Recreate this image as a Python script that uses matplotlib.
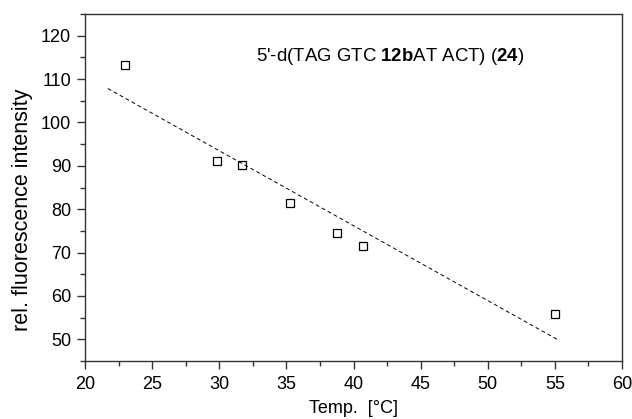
import numpy as np
import matplotlib.pyplot as plt
from matplotlib.ticker import MultipleLocator

plt.rcParams['font.family'] = ['Liberation Sans', 'DejaVu Sans']
plt.rcParams['mathtext.fontset'] = 'custom'
plt.rcParams['mathtext.rm'] = 'Liberation Sans'
plt.rcParams['mathtext.bf'] = 'Liberation Sans:bold'

# Messwerte
temp = [23.0, 29.8, 31.7, 35.3, 38.8, 40.7, 55.0]
intensity = [113.3, 91.0, 90.2, 81.4, 74.6, 71.4, 55.9]

# Bereich der Ausgleichsgeraden
fit_range = [21.7, 55.3]

fig = plt.figure(figsize=(6.32, 4.19), dpi=100)
ax = fig.add_axes([0.1345, 0.1384, 0.8497, 0.8282])

ax.plot(temp, intensity, linestyle='none', marker='s', markersize=5.2,
        markerfacecolor='white', markeredgecolor='black', markeredgewidth=0.9)

# Lineare Regression
s, m = np.polyfit(temp, intensity, 1)
xf = np.array(fit_range)
ax.plot(xf, s * xf + m, color='black', linestyle=(0, (4, 3)), linewidth=0.7)

ax.set_xlim(20, 60)
ax.set_ylim(45, 125)
ax.xaxis.set_major_locator(MultipleLocator(5))
ax.xaxis.set_minor_locator(MultipleLocator(2.5))
ax.set_yticks(np.arange(50, 121, 10))
ax.yaxis.set_minor_locator(MultipleLocator(5))
ax.tick_params(which='both', direction='out', labelsize=13, color='#333333', width=1)
ax.tick_params(which='major', length=6)
ax.tick_params(which='minor', length=3.5)
ax.tick_params(axis='x', pad=5)
ax.tick_params(axis='y', pad=4)
for sp in ax.spines.values():
    sp.set_color('#333333')
    sp.set_linewidth(1)

ax.set_xlabel('Temp.  [°C]', fontsize=13)
ax.xaxis.set_label_coords(0.5, -0.112)
ax.set_ylabel('rel. fluorescence intensity', fontsize=15.5)
ax.yaxis.set_label_coords(-0.097, 0.435)

ax.text(32.7, 115.1, r"5'-d(TAG GTC $\mathbf{12b}$AT ACT) ($\mathbf{24}$)",
        fontsize=13.4, ha='left', va='center')

fig.savefig('out.png', dpi=100)
